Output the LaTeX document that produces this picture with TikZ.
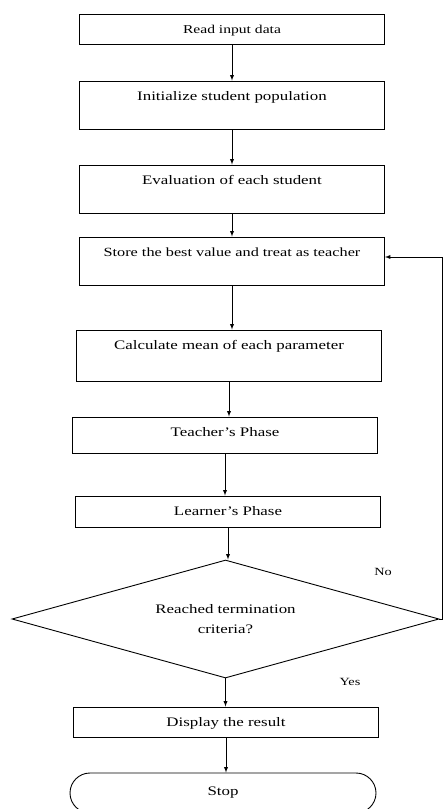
\documentclass[tikz,border=0pt]{standalone}
\usepackage{fontspec}
\setmainfont{Liberation Serif}[FakeStretch=1.3]
\usepackage{tikz}
\usetikzlibrary{arrows}
\usetikzlibrary{calc}
\usetikzlibrary{shapes.geometric}
\usetikzlibrary{shapes.misc}

\begin{document}
\begin{tikzpicture}[x=1pt, y=-1pt, >=latex, line width=0.9pt,
  box/.style={draw, rectangle, inner sep=0pt, minimum width=305pt, text height=19pt, text depth=#1, font=\fontsize{13}{15}\selectfont},
  box/.default=11pt,
  decision/.style={draw, diamond, inner sep=0pt, aspect=3.6, minimum width=427pt, minimum height=118pt, align=center, font=\fontsize{13}{20}\selectfont},
  stopbox/.style={draw, rounded rectangle, inner sep=0pt, minimum width=306pt, minimum height=40pt, font=\fontsize{13}{15}\selectfont},
  tag/.style={inner sep=0pt, font=\fontsize{11}{12}\selectfont}]

\path [use as bounding box, fill=white] (0,0) rectangle (446,809);

% process boxes
\node [box, font=\fontsize{12}{14}\selectfont] (read) at (232,29) {Read input data};
\node [box=29pt] (init) at (232,105) {Initialize student population};
\node [box=29pt] (eval) at (232,189) {Evaluation of each student};
\node [box=29pt, font=\fontsize{12.5}{14}\selectfont] (store) at (232,261) {Store the best value and treat as teacher};
\node [box=32pt] (mean) at (229,355.5) {Calculate mean of each parameter};
\node [box=17pt] (tphase) at (225,435) {Teacher's Phase};
\node [box=12pt] (lphase) at (228,511.5) {Learner's Phase};

% decision and end
\node [decision] (dec) at (225.5,619) {Reached termination\\criteria?};
\node [box] (show) at (226,722) {Display the result};
\node [stopbox] (stop) at (223,793) {Stop};

% connectors
\foreach \a/\b in {read/init, init/eval, eval/store, store/mean, mean/tphase, tphase/lphase, lphase/dec, dec/show, show/stop}
  \draw [->] (\a) -- (\a |- \b.north);

\coordinate (back) at (442,619);
\draw [->] (dec.east) -- (back) |- ([yshift=4pt]store.east);

\node [tag] (no) at (383,572) {No};
\node [tag] (yes) at (350,682) {Yes};

\end{tikzpicture}
\end{document}
